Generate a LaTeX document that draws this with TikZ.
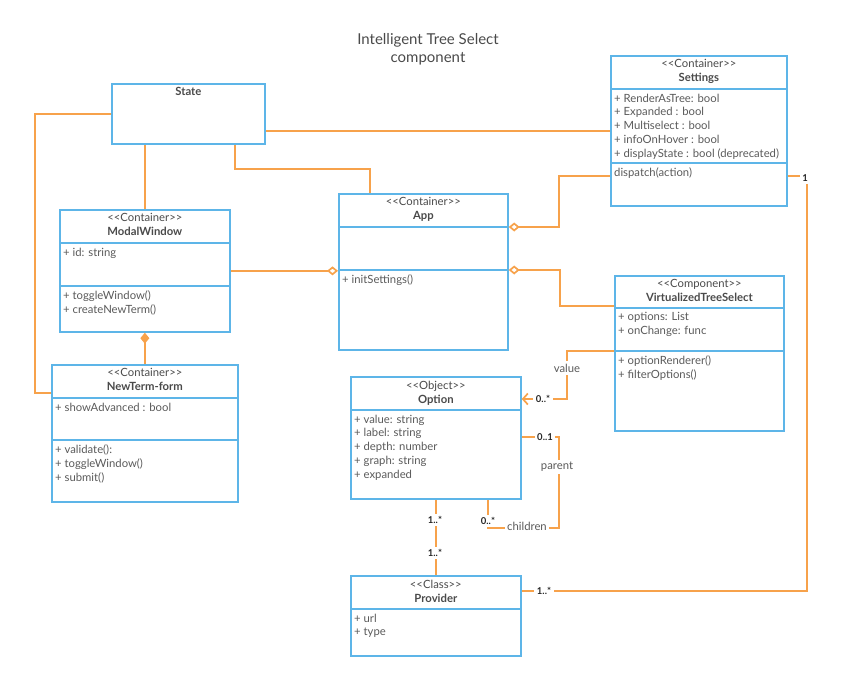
\documentclass[tikz,border=0pt]{standalone}
\usepackage{fontspec}
\setmainfont{Lato}
\usetikzlibrary{calc,arrows.meta}
\definecolor{umlblue}{HTML}{5DB5E8}
\definecolor{umlorange}{HTML}{F7A24B}
\definecolor{umltext}{HTML}{5A5A5A}
\definecolor{umlhead}{HTML}{4A4A4A}
\tikzset{
  classbox/.style={rectangle,draw=umlblue,line width=1.7pt,anchor=north west,inner sep=0pt},
  head/.style={anchor=north,align=center,inner sep=0pt,text=umlhead,font=\fontsize{11.3}{14}\selectfont},
  member/.style={anchor=north west,align=left,inner sep=0pt,text=umltext,font=\fontsize{11.3}{13.8}\selectfont},
  sep/.style={draw=umlblue,line width=1.7pt},
  link/.style={draw=umlorange,line width=1.7pt},
  aggr/.style={link,-{Diamond[open,length=11pt,width=9pt]}},
  comp/.style={link,-{Diamond[length=11pt,width=9pt]}},
  mult/.style={fill=white,inner sep=2.5pt,text=black!85,font=\fontsize{9.5}{9.5}\selectfont\bfseries},
  role/.style={fill=white,inner sep=2.5pt,text=umltext,font=\fontsize{11.3}{11.3}\selectfont}
}
\begin{document}
\begin{tikzpicture}[x=1pt,y=-1pt]
    \useasboundingbox (0,0) rectangle (845,677);
    \node[align=center,text=umlhead,font=\fontsize{15}{18}\selectfont] (title) at (428,49) {Intelligent Tree Select\\component};

    % boxes
    \node[classbox,minimum width=153pt,minimum height=60pt] (state) at (111,83) {};
    \node[head] (statehead) at ($(state.north)+(0,4.5)$) {\bfseries State};

    \node[classbox,minimum width=176pt,minimum height=150pt] (settings) at (610,55) {};
    \draw[sep] ($(settings.north west)+(0,34)$) -- ($(settings.north east)+(0,34)$);
    \draw[sep] ($(settings.north west)+(0,108)$) -- ($(settings.north east)+(0,108)$);
    \node[head] (settingshead) at ($(settings.north)+(0,4.5)$) {<{}<Container>{}>\\\bfseries Settings};
    \node[member] (settingsattr) at ($(settings.north west)+(4,38.5)$) {+ RenderAsTree: bool\\+ Expanded : bool\\+ Multiselect : bool\\+ infoOnHover : bool\\+ displayState : bool (deprecated)};
    \node[member] (settingsops) at ($(settings.north west)+(4,112.5)$) {dispatch(action)};

    \node[classbox,minimum width=169pt,minimum height=156pt] (app) at (338,193) {};
    \draw[sep] ($(app.north west)+(0,34)$) -- ($(app.north east)+(0,34)$);
    \draw[sep] ($(app.north west)+(0,77)$) -- ($(app.north east)+(0,77)$);
    \node[head] (apphead) at ($(app.north)+(0,4.5)$) {<{}<Container>{}>\\\bfseries App};
    \node[member] (appops) at ($(app.north west)+(4,81.5)$) {+ initSettings()};

    \node[classbox,minimum width=170pt,minimum height=122pt] (modal) at (59,209) {};
    \draw[sep] ($(modal.north west)+(0,34)$) -- ($(modal.north east)+(0,34)$);
    \draw[sep] ($(modal.north west)+(0,77)$) -- ($(modal.north east)+(0,77)$);
    \node[head] (modalhead) at ($(modal.north)+(0,4.5)$) {<{}<Container>{}>\\\bfseries ModalWindow};
    \node[member] (modalattr) at ($(modal.north west)+(4,38.5)$) {+ id: string};
    \node[member] (modalops) at ($(modal.north west)+(4,81.5)$) {+ toggleWindow()\\+ createNewTerm()};

    \node[classbox,minimum width=186pt,minimum height=137pt] (newterm) at (51,364) {};
    \draw[sep] ($(newterm.north west)+(0,34)$) -- ($(newterm.north east)+(0,34)$);
    \draw[sep] ($(newterm.north west)+(0,76)$) -- ($(newterm.north east)+(0,76)$);
    \node[head] (newtermhead) at ($(newterm.north)+(0,4.5)$) {<{}<Container>{}>\\\bfseries NewTerm-form};
    \node[member] (newtermattr) at ($(newterm.north west)+(4,38.5)$) {+ showAdvanced : bool};
    \node[member] (newtermops) at ($(newterm.north west)+(4,80.5)$) {+ validate():\\+ toggleWindow()\\+ submit()};

    \node[classbox,minimum width=169pt,minimum height=155pt] (vts) at (614,275) {};
    \draw[sep] ($(vts.north west)+(0,33)$) -- ($(vts.north east)+(0,33)$);
    \draw[sep] ($(vts.north west)+(0,76)$) -- ($(vts.north east)+(0,76)$);
    \node[head] (vtshead) at ($(vts.north)+(0,4.5)$) {<{}<Component>{}>\\\bfseries VirtualizedTreeSelect};
    \node[member] (vtsattr) at ($(vts.north west)+(4,37.5)$) {+ options: List\\+ onChange: func};
    \node[member] (vtsops) at ($(vts.north west)+(4,80.5)$) {+ optionRenderer()\\+ filterOptions()};

    \node[classbox,minimum width=170pt,minimum height=122pt] (option) at (350,376) {};
    \draw[sep] ($(option.north west)+(0,34)$) -- ($(option.north east)+(0,34)$);
    \node[head] (optionhead) at ($(option.north)+(0,4.5)$) {<{}<Object>{}>\\\bfseries Option};
    \node[member] (optionattr) at ($(option.north west)+(4,38.5)$) {+ value: string\\+ label: string\\+ depth: number\\+ graph: string\\+ expanded};

    \node[classbox,minimum width=170pt,minimum height=80pt] (provider) at (350,575) {};
    \draw[sep] ($(provider.north west)+(0,34)$) -- ($(provider.north east)+(0,34)$);
    \node[head] (providerhead) at ($(provider.north)+(0,4.5)$) {<{}<Class>{}>\\\bfseries Provider};
    \node[member] (providerattr) at ($(provider.north west)+(4,38.5)$) {+ url\\+ type};

    % links
    \draw[link] (settings.west) -- (settings.west -| state.east);
    \draw[link] (modal.north) -- (modal.north |- state.south);
    \draw[link] ($(state.south east)+(-31,0)$) -- ++(0,24) -| ($(app.north west)+(32,0)$);
    \draw[link] (state.west) -- ++(-76,0) |- ($(newterm.north west)+(0,29)$);
    \draw[aggr] (modal.east) -- (modal.east -| app.west);
    \draw[aggr] ($(settings.north west)+(0,121)$) -- ++(-51,0) |- ($(app.north east)+(0,34)$);
    \draw[aggr] ($(vts.north west)+(0,31)$) -- ++(-54,0) |- ($(app.north east)+(0,77)$);
    \draw[comp] (newterm.north) -- (modal.south);
    \draw[link,-{Straight Barb[length=5pt,width=11pt]}] ($(vts.north west)+(0,76)$) -- ++(-47,0) |- ($(option.north east)+(0,23)$);
    \draw[link] ($(option.north east)+(0,61)$) -| ($(option.south east)+(37,28)$) -| ($(option.south west)+(138,0)$);
    \draw[link] (option.south) -- (provider.north);
    \draw[link] ($(settings.north east)+(0,121)$) -- ++(19,0) |- ($(provider.north east)+(0,16)$);

    % labels
    \node[role] (valuelbl) at (567,368) {value};
    \node[mult] (valuemult) at (543,399) {0..*};
    \node[mult] (parentmult) at (545,437) {0..1};
    \node[role] (parentlbl) at (557,467) {parent};
    \node[role] (childrenlbl) at (527,526) {children};
    \node[mult] (childrenmult) at (488,521) {0..*};
    \node[mult] (optionmult) at (435,520) {1..*};
    \node[mult] (providermult) at (435,553) {1..*};
    \node[mult] (settingsprov) at (544,591) {1..*};
    \node[mult] (settingsmult) at (805,178) {1};
\end{tikzpicture}
\end{document}
